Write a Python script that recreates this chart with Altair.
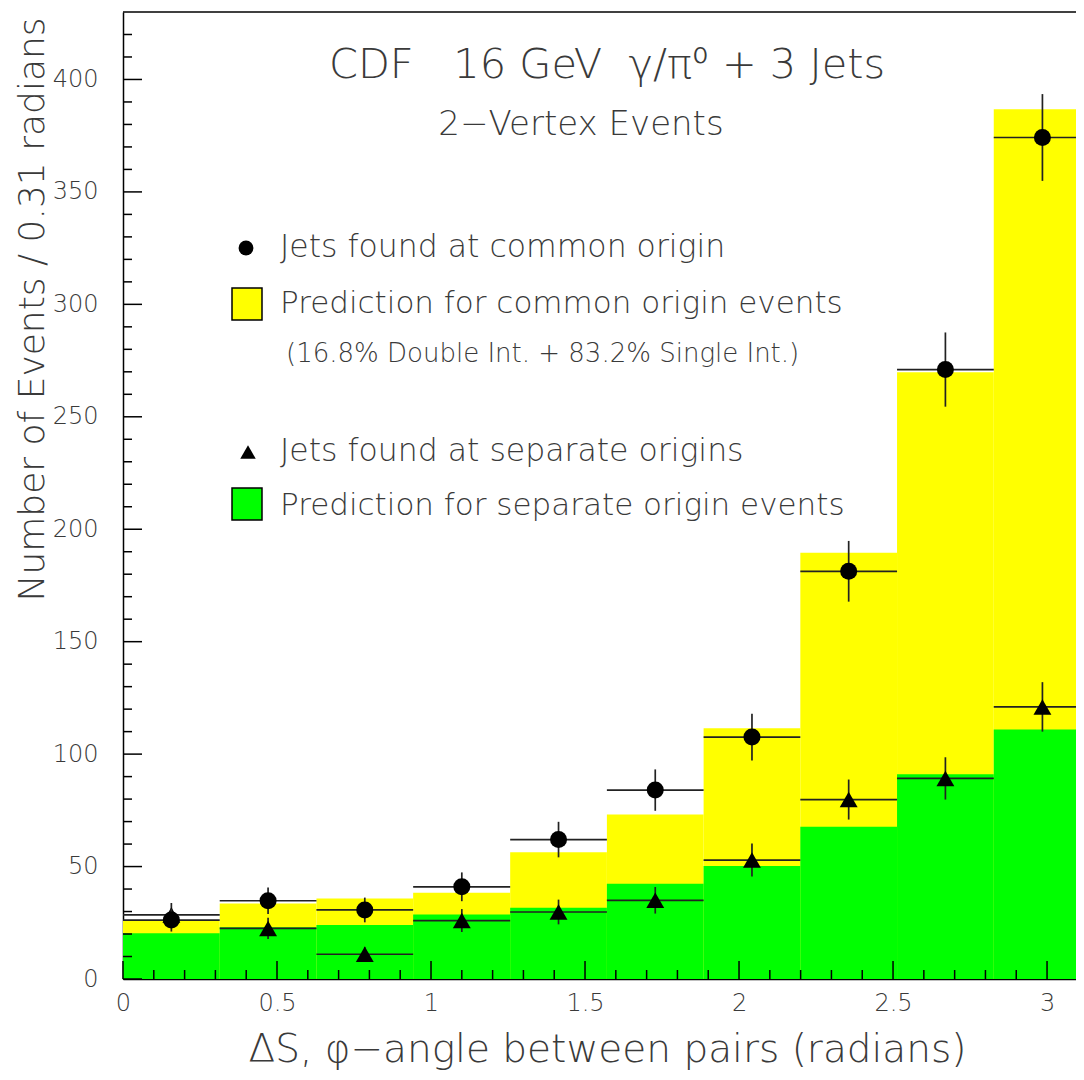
import altair as alt
import pandas as pd

FONT = "DejaVu Sans"
FW = 300
TXT = "#3a3a3a"
NB = "\u00a0"

# ---- data ----
bin_lo = [0.0, 0.314, 0.628, 0.942, 1.257, 1.571, 1.885, 2.199, 2.513, 2.827]
bin_hi = [0.314, 0.628, 0.942, 1.257, 1.571, 1.885, 2.199, 2.513, 2.827, 3.142]
bin_mid = [0.157, 0.471, 0.785, 1.100, 1.414, 1.728, 2.042, 2.356, 2.670, 2.985]

pred_common = [25.9, 33.6, 35.8, 38.3, 56.4, 73.2, 111.5, 189.5, 269.8, 386.8]
pred_separate = [20.3, 23.0, 24.0, 28.7, 31.7, 42.3, 50.2, 67.7, 91.1, 110.9]

data_common = [26.2, 34.8, 30.7, 41.0, 62.0, 84.0, 107.6, 181.3, 271.0, 374.2]
err_common = [5.1, 5.9, 5.5, 6.4, 7.9, 9.2, 10.4, 13.5, 16.5, 19.3]
data_separate = [28.5, 22.5, 11.0, 26.0, 29.8, 35.0, 52.9, 79.8, 89.2, 121.0]
err_separate = [5.3, 4.7, 3.3, 5.1, 5.5, 5.9, 7.3, 8.9, 9.4, 11.0]

x_major = [0, 0.5, 1, 1.5, 2, 2.5, 3]
x_minor = [0.1, 0.2, 0.3, 0.4, 0.6, 0.7, 0.8, 0.9, 1.1, 1.2, 1.3, 1.4,
           1.6, 1.7, 1.8, 1.9, 2.1, 2.2, 2.3, 2.4, 2.6, 2.7, 2.8, 2.9]
y_major = [0, 50, 100, 150, 200, 250, 300, 350, 400]
y_minor = [10, 20, 30, 40, 60, 70, 80, 90, 110, 120, 130, 140, 160, 170, 180, 190,
           210, 220, 230, 240, 260, 270, 280, 290, 310, 320, 330, 340, 360, 370,
           380, 390, 410, 420]

title_text = ("CDF" + NB * 3 + "16" + NB + "GeV" + NB * 2 + "\u03b3/\u03c0\u2070"
              + NB + "+" + NB + "3" + NB + "Jets")
subtitle_text = "2\u2212Vertex Events"
x_title = "\u0394S, \u03c6\u2212angle between pairs (radians)"
y_title = "Number of Events / 0.31 radians"
leg1 = "Jets found at common origin"
leg2 = "Prediction for common origin events"
leg2b = "(16.8% Double Int. + 83.2% Single Int.)"
leg3 = "Jets found at separate origins"
leg4 = "Prediction for separate origin events"

W, H = 953, 967
XMAX = 3.094

df = pd.DataFrame(dict(lo=bin_lo, hi=bin_hi, mid=bin_mid, pc=pred_common,
                       ps=pred_separate, dc=data_common, ec=err_common,
                       ds=data_separate, es=err_separate))
one = pd.DataFrame({"k": [0]})

xs = alt.Scale(domain=[0, XMAX], nice=False, zero=False)
ys = alt.Scale(domain=[0, 430], nice=False, zero=False)

xaxis = alt.Axis(values=x_major, format="~g", ticks=False, tickSize=0, grid=False,
                 domainColor="black", domainWidth=1.5, labelFlush=False, labelOverlap=False,
                 labelFont=FONT, labelFontSize=24, labelFontWeight=FW, labelColor=TXT,
                 labelPadding=12, title=x_title, titleFont=FONT, titleFontSize=39,
                 titleFontWeight=FW, titleColor=TXT, titleX=484, titleY=70,
                 titleAlign="center", titleBaseline="middle")
yaxis = alt.Axis(values=y_major, format="d", ticks=False, tickSize=0, grid=False,
                 domainColor="black", domainWidth=1.5, labelOverlap=False,
                 labelFont=FONT, labelFontSize=24, labelFontWeight=FW, labelColor=TXT,
                 labelPadding=25, title=y_title, titleFont=FONT, titleFontSize=36,
                 titleFontWeight=FW, titleColor=TXT, titleAngle=270, titleX=-91,
                 titleY=297, titleAlign="center", titleBaseline="middle")


def X(f):
    return alt.X(f, scale=xs, axis=xaxis)


def Y(f):
    return alt.Y(f, scale=ys, axis=yaxis)


base = alt.Chart(df)

yellow = base.mark_rect(color="#ffff00", clip=True).encode(
    x=X("lo:Q"), x2="hi:Q", y=Y("pc:Q"), y2=alt.datum(0))
green = base.mark_rect(color="#00ff00", clip=True).encode(
    x=X("lo:Q"), x2="hi:Q", y=Y("ps:Q"), y2=alt.datum(0))

EB = dict(color="#222222", strokeWidth=1.7, clip=True)

err = base.transform_calculate(
    c_lo="datum.dc - datum.ec", c_hi="datum.dc + datum.ec",
    s_lo="datum.ds - datum.es", s_hi="datum.ds + datum.es")

s_v = err.mark_rule(**EB).encode(x=X("mid:Q"), y=Y("s_lo:Q"), y2="s_hi:Q")
s_h = base.mark_rule(**EB).encode(x=X("lo:Q"), x2="hi:Q", y=Y("ds:Q"))
c_v = err.mark_rule(**EB).encode(x=X("mid:Q"), y=Y("c_lo:Q"), y2="c_hi:Q")
c_h = base.mark_rule(**EB).encode(x=X("lo:Q"), x2="hi:Q", y=Y("dc:Q"))
tri = base.mark_point(shape="triangle-up", filled=True, size=320, color="black",
                      opacity=1).encode(x=X("mid:Q"), y=Y("ds:Q"))
circ = base.mark_point(shape="circle", filled=True, size=290, color="black",
                       opacity=1).encode(x=X("mid:Q"), y=Y("dc:Q"))

# inward ticks
TK = dict(color="black", strokeWidth=1.5)
xt_major = alt.Chart(pd.DataFrame({"t": x_major})).mark_rule(**TK).encode(
    x=X("t:Q"), y=alt.value(H), y2=alt.value(H - 18))
xt_minor = alt.Chart(pd.DataFrame({"t": x_minor})).mark_rule(**TK).encode(
    x=X("t:Q"), y=alt.value(H), y2=alt.value(H - 9))
yt_major = alt.Chart(pd.DataFrame({"t": y_major})).mark_rule(**TK).encode(
    y=Y("t:Q"), x=alt.value(0), x2=alt.value(19))
yt_minor = alt.Chart(pd.DataFrame({"t": y_minor})).mark_rule(**TK).encode(
    y=Y("t:Q"), x=alt.value(0), x2=alt.value(9))
top_border = alt.Chart(one).mark_rule(color="black", strokeWidth=1.5).encode(
    x=alt.value(0), x2=alt.value(W), y=alt.value(0))


def txt(s, x, y, size, align="left"):
    return alt.Chart(one).mark_text(text=s, font=FONT, fontSize=size, fontWeight=FW,
                                    color=TXT, align=align, baseline="middle").encode(
        x=alt.value(x), y=alt.value(y))


texts = [
    txt(title_text, 484, 54, 41.5, "center"),
    txt(subtitle_text, 458, 113, 34, "center"),
    txt(leg1, 157, 236, 31.5),
    txt(leg2, 157, 292, 31),
    txt(leg2b, 163, 342, 26),
    txt(leg3, 157, 440, 31.5),
    txt(leg4, 157, 494, 31),
]

leg_circ = alt.Chart(one).mark_point(shape="circle", filled=True, size=220, color="black",
                                     opacity=1).encode(x=alt.value(123), y=alt.value(236))
leg_tri = alt.Chart(one).mark_point(shape="triangle-up", filled=True, size=240, color="black",
                                    opacity=1).encode(x=alt.value(125), y=alt.value(440))
leg_yel = alt.Chart(one).mark_rect(fill="#ffff00", stroke="black", strokeWidth=1.5).encode(
    x=alt.value(109), x2=alt.value(139), y=alt.value(276), y2=alt.value(308))
leg_grn = alt.Chart(one).mark_rect(fill="#00ff00", stroke="black", strokeWidth=1.5).encode(
    x=alt.value(109), x2=alt.value(139), y=alt.value(476), y2=alt.value(508))

chart = alt.layer(
    yellow, green, s_h, s_v, tri, c_h, c_v, circ,
    xt_major, xt_minor, yt_major, yt_minor, top_border,
    leg_circ, leg_tri, leg_yel, leg_grn, *texts
).properties(
    width=W, height=H,
    autosize=alt.AutoSizeParams(type="none"),
    padding={"left": 115, "top": 4, "right": 0, "bottom": 93},
    background="white",
).configure_view(stroke=None)

chart.save("out.html", embed_options={"renderer": "svg", "actions": False})
